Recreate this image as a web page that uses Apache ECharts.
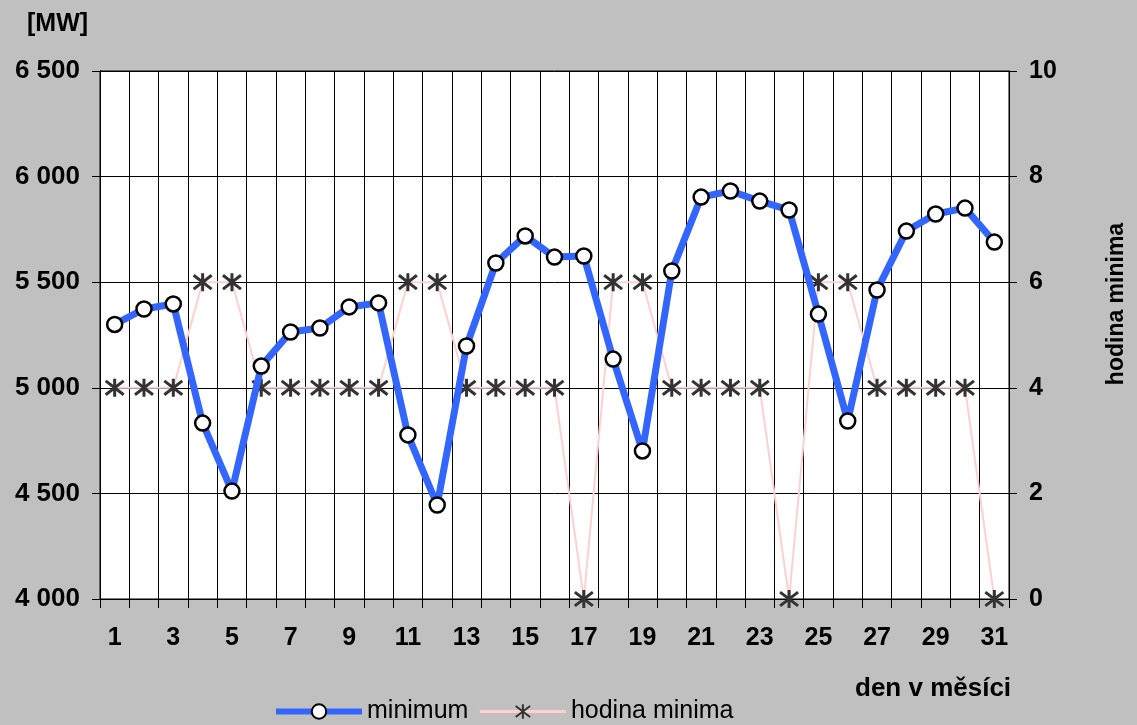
<!DOCTYPE html>
<html><head><meta charset="utf-8">
<script src="https://cdn.jsdelivr.net/npm/echarts@6/dist/echarts.min.js"></script>
<style>html,body{margin:0;padding:0;background:#c0c0c0;}#c{width:1137px;height:725px;}</style>
</head><body><div id="c"></div>
<script>
const days = ['1','2','3','4','5','6','7','8','9','10','11','12','13','14','15','16','17','18','19','20','21','22','23','24','25','26','27','28','29','30','31'];
const minimum = [5300,5373,5397,4833,4511,5103,5264,5283,5383,5402,4777,4445,5198,5591,5719,5619,5624,5136,4701,5553,5903,5932,5884,5842,5349,4843,5463,5742,5823,5851,5690];
const hodinaMinima = [4,4,4,6,6,4,4,4,4,4,6,6,4,4,4,4,0,6,6,4,4,4,4,0,6,6,4,4,4,4,0];
const leftTicks = [4000,4500,5000,5500,6000,6500];

const star = 'path://M0,0L10,10M10,0L0,10M5,-1.5L5,11.5';
const font = 'Liberation Sans, Arial, sans-serif';
const FS = 25;
const chart = echarts.init(document.getElementById('c'));
chart.setOption({
  backgroundColor: '#c0c0c0',
  animation: false,
  textStyle: {fontFamily: font},
  grid: {left: 100, right: 128, top: 71, bottom: 126, show: true, backgroundColor: '#ffffff', borderColor: '#000', borderWidth: 1},
  legend: {
    left: 268, top: 694, itemWidth: 86, itemHeight: 18, itemGap: 10,
    textStyle: {fontSize: FS, color: '#000', fontFamily: font},
    data: [
      {name: 'minimum', lineStyle: {width: 6, color: '#3366ff'}},
      {name: 'hodina minima', lineStyle: {width: 3, color: '#ffd0d0'}}
    ]
  },
  xAxis: {
    type: 'category', data: days, boundaryGap: true,
    axisLine: {show: true, lineStyle: {color: '#000', width: 1}},
    axisTick: {show: true, interval: 0, length: 9, lineStyle: {color: '#000'}},
    splitLine: {show: true, interval: 0, lineStyle: {color: '#000', width: 1}},
    axisLabel: {interval: 1, fontSize: FS, fontWeight: 'bold', color: '#000', margin: 27}
  },
  yAxis: [{
    type: 'value', min: 4000, max: 6500, interval: 500,
    axisLine: {show: true, lineStyle: {color: '#000'}},
    axisTick: {show: true, length: 8, lineStyle: {color: '#000'}},
    splitLine: {show: true, lineStyle: {color: '#000', width: 1}},
    axisLabel: {fontSize: 26, fontWeight: 'bold', color: '#000', margin: 20,
      formatter: v => String(v).replace(/\B(?=(\d{3})+(?!\d))/g, ' ')}
  }, {
    type: 'value', min: 0, max: 10, interval: 2, position: 'right',
    axisLine: {show: true, lineStyle: {color: '#000'}},
    axisTick: {show: true, length: 8, lineStyle: {color: '#000'}},
    splitLine: {show: false},
    axisLabel: {fontSize: FS, fontWeight: 'bold', color: '#000', margin: 20}
  }],
  graphic: [
    {type: 'text', left: 27, top: 12, style: {text: '[MW]', font: 'bold ' + FS + 'px ' + font, fill: '#000'}},
    {type: 'text', left: 855, top: 676, style: {text: 'den v měsíci', font: 'bold 26px ' + font, fill: '#000'}},
    {type: 'text', x: 1117, y: 304, rotation: Math.PI / 2, style: {text: 'hodina minima', font: 'bold 23px ' + font, fill: '#000', align: 'center', verticalAlign: 'middle'}}
  ],
  series: [{
    name: 'hodina minima', type: 'line', yAxisIndex: 1, data: hodinaMinima,
    symbol: star, symbolSize: 18, showSymbol: true,
    lineStyle: {color: '#ffd0d0', width: 2},
    itemStyle: {color: 'rgba(0,0,0,0)', borderColor: '#333', borderWidth: 3},
    z: 2
  }, {
    name: 'minimum', type: 'line', data: minimum,
    symbol: 'circle', symbolSize: 15,
    lineStyle: {color: '#3366ff', width: 7},
    itemStyle: {color: '#ffffff', borderColor: '#000', borderWidth: 2.5},
    z: 3
  }]
});
</script></body></html>
